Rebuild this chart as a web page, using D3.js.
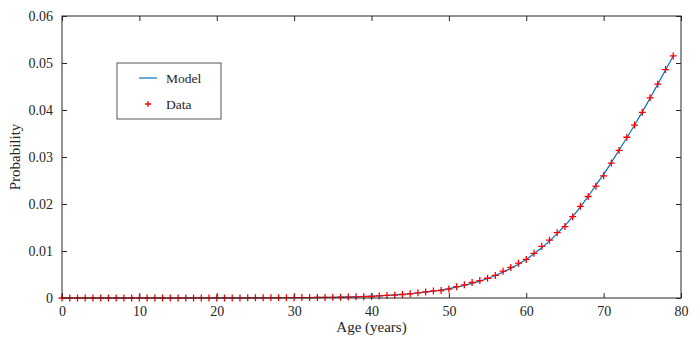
<!DOCTYPE html>
<html>
<head>
<meta charset="utf-8">
<script src="https://cdn.jsdelivr.net/npm/d3@7"></script>
<style>
  body { margin: 0; background: #fff; }
  svg text { font-family: "Liberation Serif", "DejaVu Serif", serif; fill: #262626; }
</style>
</head>
<body>
<div id="chart"></div>
<script>
// ages 0..79
const ages = d3.range(0, 80);

// observed probability by age
const dataProb = [
  0, 0, 0, 0, 0, 0, 0, 0, 0, 0,
  0, 0, 0, 0, 0, 0, 0.00001, 0.00001, 0.00001, 0.00001,
  0.00001, 0.00002, 0.00002, 0.00002, 0.00003, 0.00003, 0.00004, 0.00005, 0.00005, 0.00006,
  0.00007, 0.00008, 0.0001, 0.00011, 0.00013, 0.00015, 0.00018, 0.0002, 0.00024, 0.00028,
  0.00032, 0.00045, 0.00055, 0.0006, 0.00075, 0.0009, 0.0011, 0.0013, 0.0015, 0.0016,
  0.0019, 0.0024, 0.0028, 0.0033, 0.0037, 0.0042, 0.0048, 0.0057, 0.0065, 0.0074,
  0.0082, 0.0095, 0.011, 0.0123, 0.0139, 0.0152, 0.0173, 0.0195, 0.0216, 0.0238,
  0.026, 0.0287, 0.0314, 0.0342, 0.0368, 0.0395, 0.0426, 0.0455, 0.0486, 0.0515
];

// fitted model by age
const modelProb = [
  0, 0, 0, 0, 0, 0, 0, 0, 0, 0,
  0, 0, 0, 0, 0, 0, 0.00001, 0.00001, 0.00001, 0.00001,
  0.00001, 0.00002, 0.00002, 0.00002, 0.00003, 0.00003, 0.00004, 0.00005, 0.00005, 0.00006,
  0.00007, 0.00008, 0.0001, 0.00012, 0.00014, 0.00016, 0.00019, 0.00023, 0.00027, 0.00033,
  0.0004, 0.00047, 0.00055, 0.00065, 0.00077, 0.0009, 0.00106, 0.00124, 0.00145, 0.0017,
  0.00198, 0.0023, 0.00267, 0.0031, 0.0036, 0.00415, 0.0048, 0.0055, 0.0063, 0.0072,
  0.0082, 0.0094, 0.0107, 0.0121, 0.0137, 0.0154, 0.0173, 0.0194, 0.0216, 0.024,
  0.0263, 0.0288, 0.0315, 0.0341, 0.0368, 0.0396, 0.0425, 0.0455, 0.0485, 0.0515
];

const xTicks = [0, 10, 20, 30, 40, 50, 60, 70, 80];
const yTicks = [0, 0.01, 0.02, 0.03, 0.04, 0.05, 0.06];

const width = 700, height = 342;
const margin = {top: 16, right: 19, bottom: 44, left: 62};
const w = width - margin.left - margin.right;
const h = height - margin.top - margin.bottom;

const svg = d3.select("#chart").append("svg")
  .attr("width", width)
  .attr("height", height);

const g = svg.append("g")
  .attr("transform", "translate(" + margin.left + "," + margin.top + ")");

const x = d3.scaleLinear().domain([0, 80]).range([0, w]);
const y = d3.scaleLinear().domain([0, 0.06]).range([h, 0]);

function styleAxis(sel) {
  sel.select(".domain").remove();
  sel.selectAll(".tick line").attr("stroke", "#262626");
  sel.selectAll(".tick text").style("font-size", "14px").attr("fill", "#262626");
}

// axes with inward ticks
g.append("g")
  .attr("transform", "translate(0," + h + ")")
  .call(d3.axisBottom(x).tickValues(xTicks).tickSizeInner(-5).tickSizeOuter(0).tickPadding(8).tickFormat(d3.format("d")))
  .call(styleAxis);

g.append("g")
  .call(d3.axisLeft(y).tickValues(yTicks).tickSizeInner(-5).tickSizeOuter(0).tickPadding(9)
    .tickFormat(d => d === 0 ? "0" : d3.format(".2f")(d)))
  .call(styleAxis);

g.append("g")
  .call(d3.axisTop(x).tickValues(xTicks).tickSizeInner(-5).tickSizeOuter(0).tickFormat(""))
  .call(styleAxis);

g.append("g")
  .attr("transform", "translate(" + w + ",0)")
  .call(d3.axisRight(y).tickValues(yTicks).tickSizeInner(-5).tickSizeOuter(0).tickFormat(""))
  .call(styleAxis);

// model line
const line = d3.line()
  .x((d, i) => x(ages[i]))
  .y(d => y(d));

g.append("path")
  .datum(modelProb)
  .attr("fill", "none")
  .attr("stroke", "#0072BD")
  .attr("stroke-width", 1.2)
  .attr("d", line);

// data markers
function plusPath(s) {
  return "M" + (-s) + ",0H" + s + "M0," + (-s) + "V" + s;
}

g.selectAll(".pt")
  .data(dataProb)
  .enter()
  .append("path")
  .attr("class", "pt")
  .attr("transform", (d, i) => "translate(" + x(ages[i]) + "," + y(d) + ")")
  .attr("d", plusPath(3.5))
  .attr("stroke", "#ff0000")
  .attr("stroke-width", 1.3)
  .attr("fill", "none");

// box
g.append("rect")
  .attr("width", w)
  .attr("height", h)
  .attr("fill", "none")
  .attr("stroke", "#262626")
  .attr("stroke-width", 1);

// axis labels
svg.append("text")
  .attr("x", margin.left + w / 2)
  .attr("y", 332)
  .attr("text-anchor", "middle")
  .style("font-size", "15px")
  .text("Age (years)");

svg.append("text")
  .attr("transform", "translate(20," + (margin.top + h / 2) + ") rotate(-90)")
  .attr("text-anchor", "middle")
  .style("font-size", "15px")
  .text("Probability");

// legend
const leg = svg.append("g").attr("transform", "translate(117,63)");
leg.append("rect")
  .attr("width", 104)
  .attr("height", 56)
  .attr("fill", "#fff")
  .attr("stroke", "#555")
  .attr("stroke-width", 1);
leg.append("line")
  .attr("x1", 22).attr("x2", 40)
  .attr("y1", 15).attr("y2", 15)
  .attr("stroke", "#0072BD")
  .attr("stroke-width", 1.2);
leg.append("text")
  .attr("x", 49).attr("y", 19.5)
  .style("font-size", "13.5px")
  .text("Model");
leg.append("path")
  .attr("transform", "translate(31,41)")
  .attr("d", plusPath(3))
  .attr("stroke", "#ff0000")
  .attr("stroke-width", 1.3);
leg.append("text")
  .attr("x", 49).attr("y", 45.5)
  .style("font-size", "13.5px")
  .text("Data");
</script>
</body>
</html>
